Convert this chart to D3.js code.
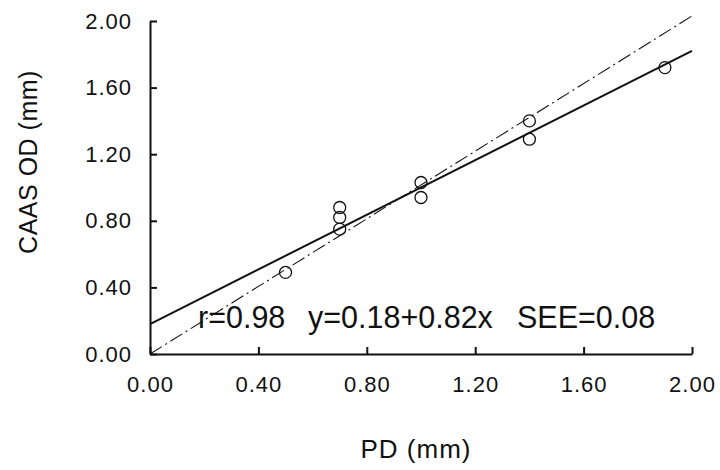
<!DOCTYPE html>
<html>
<head>
<meta charset="utf-8">
<script src="https://cdn.jsdelivr.net/npm/d3@7"></script>
<style>
  html, body { margin: 0; padding: 0; background: #fff; }
  svg text { font-family: "Liberation Sans", Arial, Helvetica, sans-serif; fill: #111; }
</style>
</head>
<body>
<svg id="chart" width="720" height="470"></svg>
<script>
// ---- data ----
const pdValues   = [0.50, 0.70, 0.70, 0.70, 1.00, 1.00, 1.40, 1.40, 1.90];
const caasValues = [0.49, 0.88, 0.82, 0.75, 1.03, 0.94, 1.40, 1.29, 1.72];
const xTicks = [0.00, 0.40, 0.80, 1.20, 1.60, 2.00];
const yTicks = [0.00, 0.40, 0.80, 1.20, 1.60, 2.00];
const fitIntercept = 0.18;
const fitSlope = 0.82;
const fitRange = [0.00, 2.00];
const identityLine = [[0.00, 0.00], [2.00, 2.03]];
const annotation = ["r=0.98", "y=0.18+0.82x", "SEE=0.08"];
const xTitle = "PD (mm)";
const yTitle = "CAAS OD (mm)";

// ---- layout ----
const svg = d3.select("#chart");
const x = d3.scaleLinear().domain([0, 2]).range([150, 692]);
const y = d3.scaleLinear().domain([0, 2]).range([354, 21]);
const fmt = d3.format(".2f");

// identity (dash-dot) line
svg.append("path")
  .datum(identityLine)
  .attr("d", d3.line().x(d => x(d[0])).y(d => y(d[1])))
  .attr("fill", "none").attr("stroke", "#111")
  .attr("stroke-width", 1.1)
  .attr("stroke-dasharray", "14,4,2,4");

// regression line
const fitPts = fitRange.map(v => [v, fitIntercept + fitSlope * v]);
svg.append("path")
  .datum(fitPts)
  .attr("d", d3.line().x(d => x(d[0])).y(d => y(d[1])))
  .attr("fill", "none").attr("stroke", "#111")
  .attr("stroke-width", 2);

// points
svg.append("g").selectAll("circle")
  .data(pdValues.map((v, i) => [v, caasValues[i]]))
  .join("circle")
  .attr("cx", d => x(d[0])).attr("cy", d => y(d[1]))
  .attr("r", 6)
  .attr("fill", "none").attr("stroke", "#111").attr("stroke-width", 1.3);

// axes
const xAxis = d3.axisBottom(x).tickValues(xTicks).tickFormat(fmt).tickSizeInner(-7).tickSizeOuter(0).tickPadding(22);
const yAxis = d3.axisLeft(y).tickValues(yTicks).tickFormat(fmt).tickSizeInner(-7).tickSizeOuter(0).tickPadding(18);

const gx = svg.append("g").attr("transform", `translate(0,${y(0)})`).call(xAxis);
const gy = svg.append("g").attr("transform", `translate(${x(0)},0)`).call(yAxis);
[gx, gy].forEach(g => {
  g.select(".domain").attr("stroke", "#111").attr("stroke-width", 2);
  g.selectAll(".tick line").attr("stroke", "#111").attr("stroke-width", 2);
  g.selectAll(".tick text").attr("font-size", 22).attr("fill", "#111")
    .style("font-family", '"Liberation Sans", Arial, sans-serif').style("letter-spacing", "1px");
});
gx.selectAll(".tick text").attr("dy", "0.71em");

// annotation
const annX = [198, 308, 517];
svg.append("g").selectAll("text")
  .data(annotation)
  .join("text")
  .attr("x", (d, i) => annX[i]).attr("y", 328)
  .attr("font-size", 30.5)
  .text(d => d);

// axis titles
svg.append("text")
  .attr("x", 416).attr("y", 458)
  .attr("text-anchor", "middle")
  .attr("font-size", 26)
  .style("letter-spacing", "1px")
  .text(xTitle);

svg.append("text")
  .attr("transform", "translate(37,162) rotate(-90)")
  .attr("text-anchor", "middle")
  .attr("font-size", 25)
  .style("letter-spacing", "0.5px")
  .text(yTitle);
</script>
</body>
</html>
